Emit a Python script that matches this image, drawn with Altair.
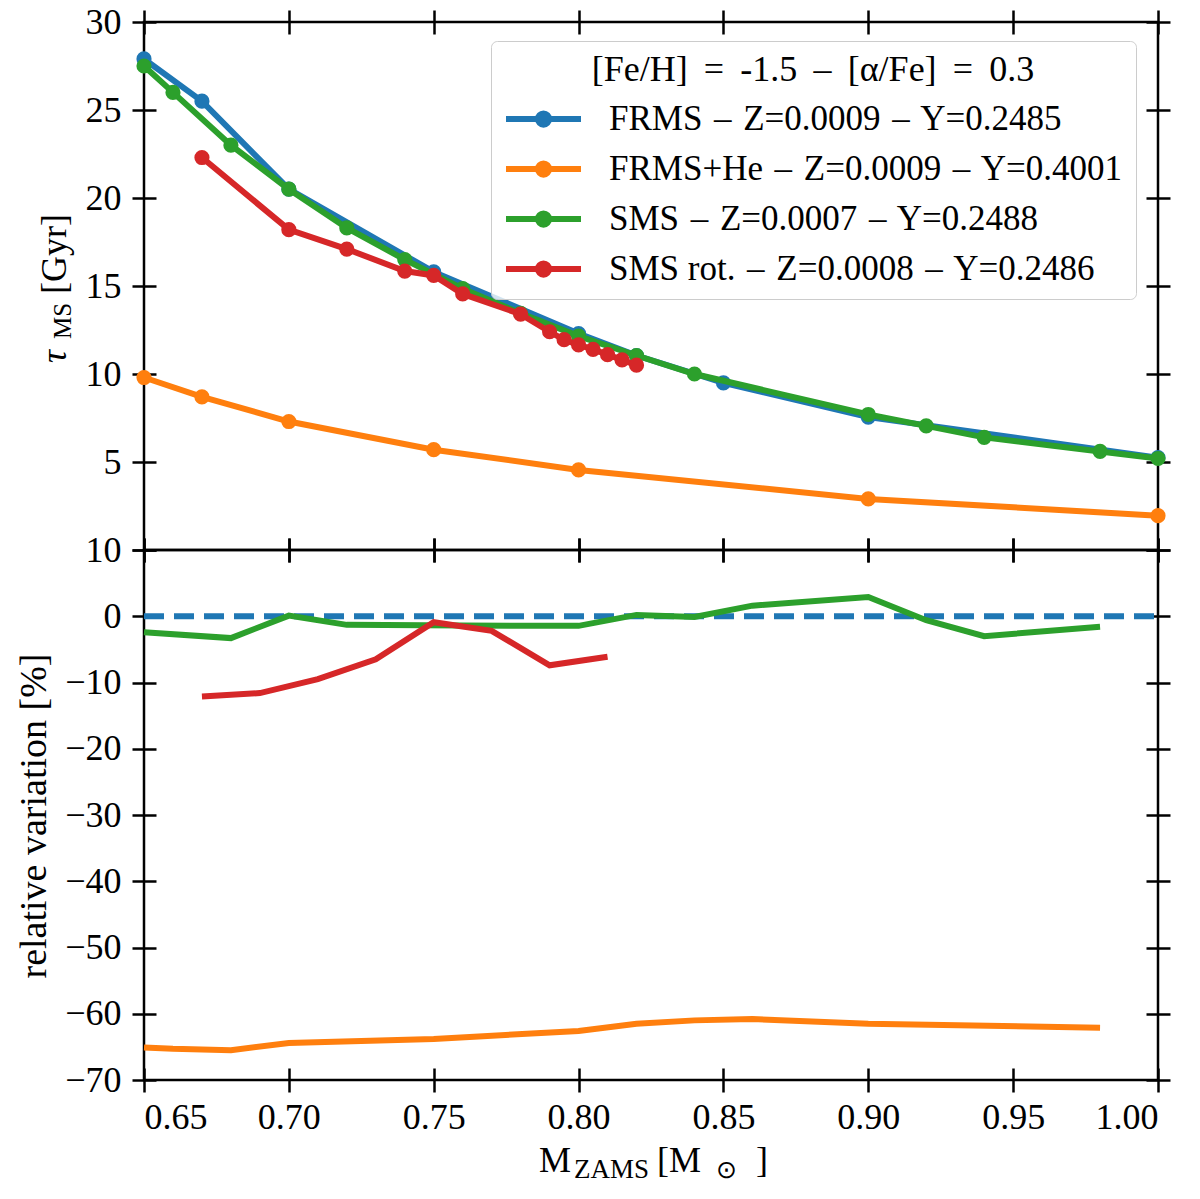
import altair as alt
import pandas as pd

# top panel: main-sequence lifetime [Gyr] against ZAMS mass
frms_m = [0.65, 0.67, 0.70, 0.75, 0.80, 0.82, 0.85, 0.90, 1.00]
frms_tau = [27.9, 25.5, 20.5, 15.8, 12.3, 11.05, 9.5, 7.55, 5.25]

frmshe_m = [0.65, 0.67, 0.70, 0.75, 0.80, 0.90, 1.00]
frmshe_tau = [9.8, 8.7, 7.3, 5.7, 4.55, 2.9, 1.95]

sms_m = [0.65, 0.66, 0.68, 0.70, 0.72, 0.74, 0.76, 0.78, 0.80, 0.82, 0.84,
         0.90, 0.92, 0.94, 0.98, 1.00]
sms_tau = [27.5, 26.0, 23.0, 20.5, 18.3, 16.5, 14.85, 13.45, 12.15, 11.05,
           10.0, 7.7, 7.05, 6.4, 5.6, 5.2]

rot_m = [0.67, 0.70, 0.72, 0.74, 0.75, 0.76, 0.78, 0.79, 0.795, 0.80, 0.805,
         0.81, 0.815, 0.82]
rot_tau = [22.3, 18.2, 17.1, 15.85, 15.6, 14.55, 13.4, 12.4, 11.95, 11.65,
           11.4, 11.1, 10.8, 10.5]

# bottom panel: relative variation [%] with respect to FRMS
ref_m = [0.65, 1.00]
ref_rel = [0.0, 0.0]

frmshe_rel_m = [0.65, 0.66, 0.68, 0.70, 0.75, 0.80, 0.82, 0.84, 0.86, 0.90, 0.98]
frmshe_rel = [-65.1, -65.3, -65.5, -64.4, -63.8, -62.6, -61.5, -61.0, -60.8,
              -61.5, -62.1]

sms_rel_m = [0.65, 0.68, 0.70, 0.72, 0.76, 0.80, 0.82, 0.84, 0.86, 0.90, 0.92,
             0.94, 0.98]
sms_rel = [-2.4, -3.3, 0.1, -1.3, -1.4, -1.45, 0.2, -0.1, 1.6, 2.9, -0.6, -3.0,
           -1.6]

rot_rel_m = [0.67, 0.69, 0.71, 0.73, 0.75, 0.77, 0.79, 0.81]
rot_rel = [-12.1, -11.6, -9.5, -6.5, -0.9, -2.2, -7.4, -6.1]

DASH = " \u200a–\u200a "
SERIES = [
    "FRMS" + DASH + "Z=0.0009" + DASH + "Y=0.2485",
    "FRMS+He" + DASH + "Z=0.0009" + DASH + "Y=0.4001",
    "SMS" + DASH + "Z=0.0007" + DASH + "Y=0.2488",
    "SMS rot." + DASH + "Z=0.0008" + DASH + "Y=0.2486",
]
COLORS = ["#1f77b4", "#ff7f0e", "#2ca02c", "#d62728"]
SP = "\u2009"
LEGEND_TITLE = f"[Fe/H] {SP}={SP} -1.5 {SP}–{SP} [α/Fe] {SP}={SP} 0.3"

FONT = "Liberation Serif"
W, H_TOP, H_BOT = 1014, 528, 530
X_SCALE = alt.Scale(domain=[0.65, 1.0], nice=False, zero=False)
X_TICKS = [0.65, 0.70, 0.75, 0.80, 0.85, 0.90, 0.95, 1.00]

# legend symbol: a line segment with a (filled-looking) dot in the middle
SYMBOL = ("M-1,0L1,0"
          "M-0.15,0a0.15,0.15 0 1,0 0.3,0a0.15,0.15 0 1,0 -0.3,0"
          "M-0.08,0a0.08,0.08 0 1,0 0.16,0a0.08,0.08 0 1,0 -0.16,0")


def axis(orient, values, labels=True, fmt=None, expr=None):
    kw = dict(orient=orient, values=values, labels=labels, offset=-12,
              tickSize=24, tickWidth=2.5, tickColor="black", domain=False,
              grid=False, title=None, labelFont=FONT, labelFontSize=36,
              labelColor="black",
              labelPadding=8 if orient in ("top", "bottom") else 11)
    if fmt:
        kw["format"] = fmt
    if expr:
        kw["labelExpr"] = expr
    return alt.Axis(**kw)


def note(txt, x, y, size=36, angle=0, style="normal", align="left"):
    return (
        alt.Chart(pd.DataFrame({"t": [txt]}))
        .mark_text(font=FONT, fontSize=size, angle=angle, fontStyle=style,
                   align=align, baseline="alphabetic", color="black")
        .encode(x=alt.value(x), y=alt.value(y), text="t:N")
    )


legend = alt.Legend(
    title=LEGEND_TITLE, orient="none", legendX=347, legendY=19,
    fillColor="rgba(255,255,255,0.8)", strokeColor="#cccccc", cornerRadius=6,
    padding=12, titleFont=FONT, titleFontSize=36, titleFontWeight="normal",
    titleColor="black", titleAnchor="middle", titlePadding=15, titleLimit=900,
    labelFont=FONT, labelFontSize=35, labelColor="black", labelOffset=25,
    labelLimit=900, symbolType=SYMBOL, symbolSize=5625, symbolStrokeWidth=6,
    symbolOpacity=1, clipHeight=30, rowPadding=15,
)
color = alt.Color("model:N", scale=alt.Scale(domain=SERIES, range=COLORS),
                  legend=legend)

top_axes = [
    (axis("bottom", X_TICKS, labels=False),
     axis("left", [0, 5, 10, 15, 20, 25, 30],
          expr="datum.value == 0 ? '' : datum.label")),
    (axis("top", X_TICKS, labels=False),
     axis("right", [0, 5, 10, 15, 20, 25, 30], labels=False)),
]

top_layers = []
top_data = [(frms_m, frms_tau), (frmshe_m, frmshe_tau), (sms_m, sms_tau),
            (rot_m, rot_tau)]
for i, (m, t) in enumerate(top_data):
    d = pd.DataFrame({"mass": m, "tau": t, "model": SERIES[i]})
    ax_line = top_axes[0] if i == 0 else (None, None)
    ax_pts = top_axes[1] if i == 0 else (None, None)
    line = alt.Chart(d).mark_line(strokeWidth=6).encode(
        x=alt.X("mass:Q", scale=X_SCALE, axis=ax_line[0]),
        y=alt.Y("tau:Q", scale=alt.Scale(domain=[0, 30], nice=False),
                axis=ax_line[1]),
        color=color,
    )
    pts = alt.Chart(d).mark_circle(size=230, opacity=1, color=COLORS[i]).encode(
        x=alt.X("mass:Q", scale=X_SCALE, axis=ax_pts[0]),
        y=alt.Y("tau:Q", scale=alt.Scale(domain=[0, 30], nice=False),
                axis=ax_pts[1]),
    )
    top_layers += [line, pts]

# y title: tau_MS [Gyr]
top_layers += [
    note("τ", -78, 341, angle=270, style="italic"),
    note("MS", -73, 317, size=25, angle=270),
    note("[Gyr]", -78, 272, angle=270),
]

top = (
    alt.layer(*top_layers)
    .resolve_axis(x="independent", y="independent")
    .properties(width=W, height=H_TOP)
)

bot_axes = [
    (axis("bottom", X_TICKS, fmt=".2f"),
     axis("left", list(range(-70, 11, 10)))),
    (axis("top", X_TICKS, labels=False),
     axis("right", list(range(-70, 11, 10)), labels=False)),
]
y_bot = alt.Scale(domain=[-70, 10], nice=False)

bot_data = [(ref_m, ref_rel, 0), (frmshe_rel_m, frmshe_rel, 1),
            (sms_rel_m, sms_rel, 2), (rot_rel_m, rot_rel, 3)]
bot_layers = []
for j, (m, r, ci) in enumerate(bot_data):
    d = pd.DataFrame({"mass": m, "rel": r})
    ax = bot_axes[j] if j < 2 else (None, None)
    mark = dict(strokeWidth=6, color=COLORS[ci])
    if ci == 0:
        mark["strokeDash"] = [20, 10]
    bot_layers.append(
        alt.Chart(d).mark_line(**mark).encode(
            x=alt.X("mass:Q", scale=X_SCALE, axis=ax[0]),
            y=alt.Y("rel:Q", scale=y_bot, axis=ax[1]),
        )
    )

# y title of the lower panel and the shared x title: M_ZAMS [M_sun]
bot_layers += [
    note("relative variation [%]", -98, 266, size=38, angle=270, align="center"),
    note("M", 395, 622),
    note("ZAMS", 430, 628, size=27),
    note("[M", 513, 622),
    note("⊙", 572, 628, size=25),
    note("]", 612, 622),
]

bottom = (
    alt.layer(*bot_layers)
    .resolve_axis(x="independent", y="independent")
    .properties(width=W, height=H_BOT)
)

chart = (
    alt.vconcat(top, bottom, spacing=0, bounds="flush")
    .properties(padding={"left": 6, "top": -6, "right": 2, "bottom": 2})
    .configure_view(stroke="black", strokeWidth=2.5)
)

chart.save("out.html", embed_options={"renderer": "svg", "actions": False})
